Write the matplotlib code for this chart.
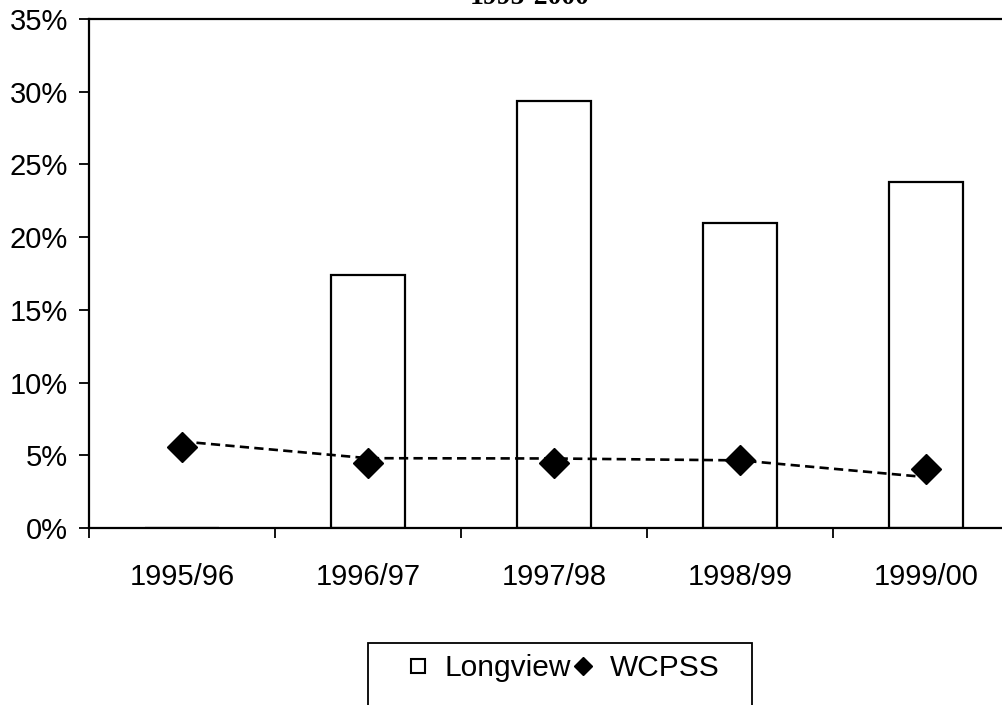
import matplotlib
matplotlib.use("Agg")
import matplotlib.pyplot as plt
from matplotlib.lines import Line2D
from matplotlib.patches import Rectangle
import numpy as np

categories = ["1995/96", "1996/97", "1997/98", "1998/99", "1999/00"]
longview = [0.0, 17.4, 29.35, 21.0, 23.8]
wcpss = [5.55, 4.45, 4.45, 4.7, 4.05]
wcpss_trend = [5.95, 4.8, 4.78, 4.65, 3.5]
yticks = [0, 5, 10, 15, 20, 25, 30, 35]
title = "1995-2000"

W, H = 1002, 705
fig = plt.figure(figsize=(W / 100, H / 100), dpi=100)
plt.rcParams['font.family'] = ['Liberation Sans', 'DejaVu Sans']

ax = fig.add_axes([89 / W, 1 - 528 / H, (1019 - 89) / W, (528 - 19) / H])
x = np.arange(len(categories))
ax.bar(x, longview, width=0.4, color='white', edgecolor='black', linewidth=1.6, zorder=2)
ax.plot(x, wcpss_trend, linestyle=(0, (3.5, 2)), color='black', linewidth=1.9, zorder=3)
ax.plot(x, wcpss, linestyle='none', marker='D', markersize=15, color='black', zorder=4)

ax.set_xlim(-0.5, len(categories) - 0.5)
ax.set_ylim(0, 35)
ax.set_yticks(yticks)
ax.set_yticklabels([f"{v}%" for v in yticks], fontsize=21)
ax.set_xticks(np.arange(len(categories) + 1) - 0.5)
ax.set_xticklabels([])
ax.set_xticks(x, minor=True)
ax.set_xticklabels(categories, minor=True, fontsize=21)
ax.tick_params(axis='x', which='minor', length=0, pad=25)
ax.tick_params(axis='x', which='major', direction='out', length=7, width=1.3)
ax.tick_params(axis='y', direction='out', length=7, width=1.3, pad=8)
for s in ['left', 'bottom', 'top']:
    ax.spines[s].set_linewidth(1.6)
ax.spines['right'].set_visible(False)

fig.text(530 / W, 1 - 4 / H, title, ha='center', va='baseline', fontsize=20,
         fontweight='bold', family=['Liberation Serif', 'DejaVu Serif'])

# legend frame
fig.patches.append(Rectangle((368 / W, 1 - 720 / H), (752 - 368) / W, (720 - 643) / H,
                             transform=fig.transFigure, facecolor='white', edgecolor='black',
                             linewidth=1.3, zorder=1))
handles = [Line2D([], [], linestyle='none', marker='s', markersize=10, markerfacecolor='white',
                  markeredgecolor='black', markeredgewidth=1.5),
           Line2D([], [], linestyle='none', marker='D', markersize=9, color='black')]
leg = fig.legend(handles, ["Longview", "WCPSS"], loc='center', bbox_to_anchor=(563 / W, 1 - 668 / H),
                 ncol=2, frameon=False, fontsize=21.5, handlelength=0.8, handletextpad=0.5,
                 columnspacing=0.0, borderpad=0)
leg.set_zorder(2)

fig.savefig("out.png", dpi=100)
